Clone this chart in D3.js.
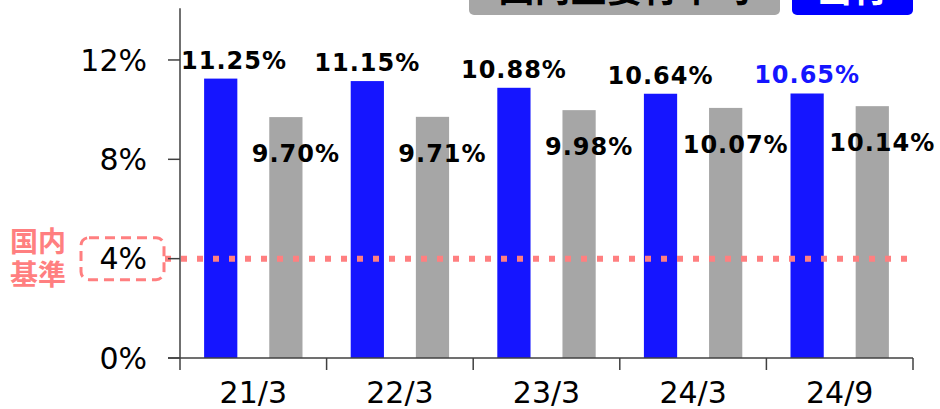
<!DOCTYPE html>
<html>
<head>
<meta charset="utf-8">
<style>
  body { margin: 0; background: #fff; }
  svg { display: block; }
</style>
</head>
<body>
<div id="chart"></div>
<script src="https://d3js.org/d3.v7.min.js"></script>
<script>
// data
var categories = ["21/3", "22/3", "23/3", "24/3", "24/9"];
var bankValues = [11.25, 11.15, 10.88, 10.64, 10.65];
var avgValues = [9.70, 9.71, 9.98, 10.07, 10.14];
var yTicks = [0, 4, 8, 12];
var baseline = 4;
var legendLabels = ["国内主要行平均", "当行"];
var baseLabel = ["国内", "基準"];

var width = 940, height = 409;
var blue = "#1515ff", gray = "#a6a6a6", pink = "#ff7f80";
var font = "DejaVu Sans, Verdana, sans-serif";
var cjk = "Noto Sans CJK JP, sans-serif";

var svg = d3.select("#chart").append("svg")
    .attr("width", width)
    .attr("height", height);

var x = d3.scaleBand().domain(categories).range([180, 913]).padding(0);
var xs = d3.scaleBand().domain(["bank", "avg"]).range([0, x.bandwidth()])
    .paddingInner(0.49).paddingOuter(0.37);
var y = d3.scaleLinear().domain([0, 14]).range([358, 10.3]);

var rows = categories.map(function(c, i) {
    return { cat: c, bank: bankValues[i], avg: avgValues[i], last: i === categories.length - 1 };
});

// bars
svg.selectAll("rect.bank").data(rows).enter().append("rect")
    .attr("class", "bank")
    .attr("x", function(d) { return x(d.cat) + xs("bank"); })
    .attr("y", function(d) { return y(d.bank); })
    .attr("width", xs.bandwidth())
    .attr("height", function(d) { return y(0) - y(d.bank); })
    .attr("fill", blue);

svg.selectAll("rect.avg").data(rows).enter().append("rect")
    .attr("class", "avg")
    .attr("x", function(d) { return x(d.cat) + xs("avg"); })
    .attr("y", function(d) { return y(d.avg); })
    .attr("width", xs.bandwidth())
    .attr("height", function(d) { return y(0) - y(d.avg); })
    .attr("fill", gray);

// baseline (dotted)
svg.append("line")
    .attr("x1", 165).attr("x2", 912)
    .attr("y1", y(baseline)).attr("y2", y(baseline))
    .attr("stroke", pink)
    .attr("stroke-width", 6)
    .attr("stroke-dasharray", "6 10");

// y axis
svg.append("line")
    .attr("x1", 180).attr("x2", 180)
    .attr("y1", y(14) - 2).attr("y2", y(0))
    .attr("stroke", "#404040").attr("stroke-width", 1.5);

svg.selectAll("line.ytick").data(yTicks).enter().append("line")
    .attr("class", "ytick")
    .attr("x1", 168).attr("x2", 180)
    .attr("y1", function(d) { return y(d); })
    .attr("y2", function(d) { return y(d); })
    .attr("stroke", "#404040").attr("stroke-width", 1.5);

svg.selectAll("text.ylab").data(yTicks).enter().append("text")
    .attr("class", "ylab")
    .attr("x", 147)
    .attr("y", function(d) { return y(d); })
    .attr("dy", "0.36em")
    .attr("text-anchor", "end")
    .attr("font-family", font)
    .attr("font-size", 30)
    .attr("fill", "#000")
    .text(function(d) { return d + "%"; });

// x axis
svg.append("line")
    .attr("x1", 168).attr("x2", 913)
    .attr("y1", y(0)).attr("y2", y(0))
    .attr("stroke", "#404040").attr("stroke-width", 1.5);

var bounds = categories.map(function(c) { return x(c); }).concat([x.range()[1]]);
svg.selectAll("line.xtick").data(bounds).enter().append("line")
    .attr("class", "xtick")
    .attr("x1", function(d) { return d; })
    .attr("x2", function(d) { return d; })
    .attr("y1", y(0)).attr("y2", y(0) + 12)
    .attr("stroke", "#404040").attr("stroke-width", 1.5);

svg.selectAll("text.xlab").data(categories).enter().append("text")
    .attr("class", "xlab")
    .attr("x", function(d) { return x(d) + x.bandwidth() / 2; })
    .attr("y", 403)
    .attr("text-anchor", "middle")
    .attr("font-family", font)
    .attr("font-size", 30)
    .attr("fill", "#000")
    .text(function(d) { return d; });

// value labels
var bankLabels = svg.selectAll("text.blab").data(rows).enter().append("text")
    .attr("class", "blab")
    .attr("x", function(d) { return x(d.cat) + xs("bank") + xs.bandwidth() / 2; })
    .attr("y", function(d) { return y(d.bank) - 10; })
    .attr("text-anchor", "middle")
    .attr("font-family", font)
    .attr("font-weight", "bold")
    .attr("font-size", 24)
    .attr("letter-spacing", 1)
    .attr("fill", function(d) { return d.last ? blue : "#000"; })
    .text(function(d) { return d.bank.toFixed(2) + "%"; });

// keep the first label clear of the axis
bankLabels.each(function() {
    var b = this.getBBox();
    if (b.x < 181) {
        d3.select(this).attr("x", +d3.select(this).attr("x") + (181 - b.x));
    }
});

svg.selectAll("text.alab").data(rows).enter().append("text")
    .attr("class", "alab")
    .attr("x", function(d) { return x(d.cat) + xs("avg") + xs.bandwidth() / 2 + 10; })
    .attr("y", function(d) { return y(d.avg) + 45; })
    .attr("text-anchor", "middle")
    .attr("font-family", font)
    .attr("font-weight", "bold")
    .attr("font-size", 24)
    .attr("letter-spacing", 1)
    .attr("fill", "#000")
    .text(function(d) { return d.avg.toFixed(2) + "%"; });

// baseline marker: dashed box around 4% and label
svg.append("rect")
    .attr("x", 81).attr("y", y(baseline) - 21)
    .attr("width", 83).attr("height", 42)
    .attr("rx", 8)
    .attr("fill", "none")
    .attr("stroke", pink)
    .attr("stroke-width", 3)
    .attr("stroke-dasharray", "10 6");

svg.append("text")
    .attr("font-family", cjk)
    .attr("font-weight", "bold")
    .attr("font-size", 28)
    .attr("fill", pink)
    .selectAll("tspan").data(baseLabel).enter().append("tspan")
    .attr("x", 10)
    .attr("y", function(d, i) { return 252 + i * 33; })
    .text(function(d) { return d; });

// legend (clipped at top)
var legend = [
    { label: legendLabels[0], x0: 469, x1: 780, fill: gray, color: "#000" },
    { label: legendLabels[1], x0: 792, x1: 913, fill: "#0000ff", color: "#fff" }
];
svg.selectAll("rect.leg").data(legend).enter().append("rect")
    .attr("class", "leg")
    .attr("x", function(d) { return d.x0; })
    .attr("y", -30)
    .attr("width", function(d) { return d.x1 - d.x0; })
    .attr("height", 45)
    .attr("rx", 5)
    .attr("fill", function(d) { return d.fill; });

svg.selectAll("text.leg").data(legend).enter().append("text")
    .attr("class", "leg")
    .attr("x", function(d) { return (d.x0 + d.x1) / 2; })
    .attr("y", 2)
    .attr("text-anchor", "middle")
    .attr("font-family", cjk)
    .attr("font-weight", "bold")
    .attr("font-size", 36)
    .attr("fill", function(d) { return d.color; })
    .text(function(d) { return d.label; });
</script>
</body>
</html>
